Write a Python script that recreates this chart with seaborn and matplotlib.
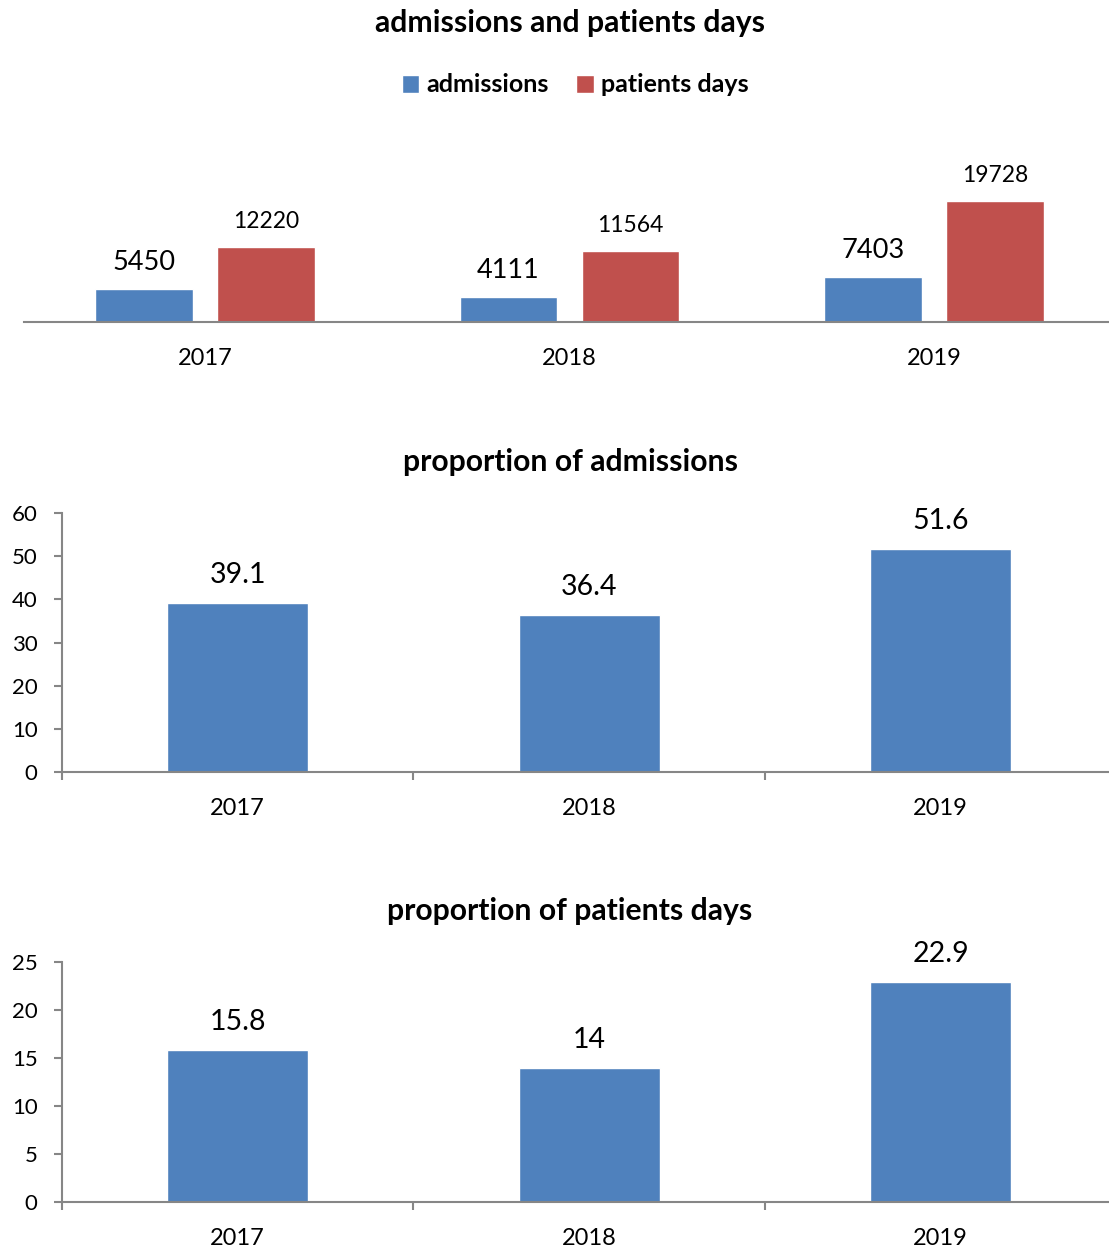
import seaborn as sns
import matplotlib.pyplot as plt
import pandas as pd

years = ["2017", "2018", "2019"]
admissions = [5450, 4111, 7403]
patient_days = [12220, 11564, 19728]
prop_admissions = [39.1, 36.4, 51.6]
prop_days = [15.8, 14, 22.9]

BLUE = "#4F81BD"
RED = "#C0504D"
GRAY = "#868686"

sns.set_theme(style="white")
plt.rcParams["font.family"] = ["Lato", "DejaVu Sans"]
plt.rcParams["text.color"] = "black"
plt.rcParams["xtick.color"] = "black"
plt.rcParams["ytick.color"] = "black"

fig = plt.figure(figsize=(11.09, 12.51), dpi=100)


def label_bars(ax, container, values, size, offset):
    for bar, v in zip(container, values):
        ax.annotate(f"{v:g}", (bar.get_x() + bar.get_width() / 2, bar.get_height()),
                    xytext=(0, offset), textcoords="offset points",
                    ha="center", va="baseline", fontsize=size, color="black")


# --- admissions and patients days ---
df_counts = pd.DataFrame({
    "year": years * 2,
    "value": admissions + patient_days,
    "series": ["admissions"] * 3 + ["patients days"] * 3,
})
ax1 = fig.add_axes([0.0216, 0.7426, 0.9775, 0.1471])
sns.barplot(data=df_counts, x="year", y="value", hue="series", palette=[BLUE, RED],
            saturation=1, width=0.67, gap=0.2, errorbar=None, ax=ax1)
handles, labels = ax1.get_legend_handles_labels()
ax1.get_legend().remove()
ax1.set_ylim(0, 30000)
ax1.set_xlim(-0.4966, 2.477)
ax1.set_yticks([])
ax1.set_xlabel("")
ax1.set_ylabel("")
for s in ["top", "right", "left"]:
    ax1.spines[s].set_visible(False)
ax1.spines["bottom"].set_color(GRAY)
ax1.spines["bottom"].set_linewidth(1.5)
ax1.tick_params(axis="x", length=0, pad=19, labelsize=17)
label_bars(ax1, ax1.containers[0], admissions, 19.5, 13.7)
label_bars(ax1, ax1.containers[1], patient_days, 16.5, 13.7)

fig.legend(handles, labels, loc="center", bbox_to_anchor=(575 / 1109, 1 - 85 / 1251),
           ncol=2, frameon=False, prop={"weight": "bold", "size": 18},
           handlelength=0.7, handleheight=0.7, handletextpad=0.28, columnspacing=1.12)


def proportion_chart(rect, values, ymax, step):
    ax = fig.add_axes(rect)
    sns.barplot(x=years, y=values, color=BLUE, saturation=1, width=0.4, errorbar=None, ax=ax)
    ax.set_ylim(0, ymax)
    ax.set_yticks(range(0, ymax + 1, step))
    ax.set_xticks([-0.5, 0.5, 1.5], minor=True)
    ax.set_xlim(-0.5, 2.476)
    for s in ["top", "right"]:
        ax.spines[s].set_visible(False)
    for s in ["left", "bottom"]:
        ax.spines[s].set_color(GRAY)
        ax.spines[s].set_linewidth(1.5)
    ax.tick_params(axis="y", left=True, length=5.5, width=1.5, color=GRAY, labelsize=16, pad=12)
    ax.tick_params(axis="x", which="major", bottom=False, length=0, labelsize=17, pad=18.5)
    ax.tick_params(axis="x", which="minor", bottom=True, length=5.5, width=1.5, color=GRAY)
    label_bars(ax, ax.containers[0], values, 20.5, 14.4)
    return ax


proportion_chart([0.0559, 0.3829, 0.9432, 0.2070], prop_admissions, 60, 10)
proportion_chart([0.0559, 0.0392, 0.9432, 0.1918], prop_days, 25, 5)

title_kw = dict(ha="center", va="center", fontsize=21.7, fontweight="bold", color="black")
fig.text(570 / 1109, 1 - 23 / 1251, "admissions and patients days", **title_kw)
fig.text(570 / 1109, 1 - 462 / 1251, "proportion of admissions", **title_kw)
fig.text(570 / 1109, 1 - 911 / 1251, "proportion of patients days", **title_kw)

fig.savefig("out.png", dpi=100)
